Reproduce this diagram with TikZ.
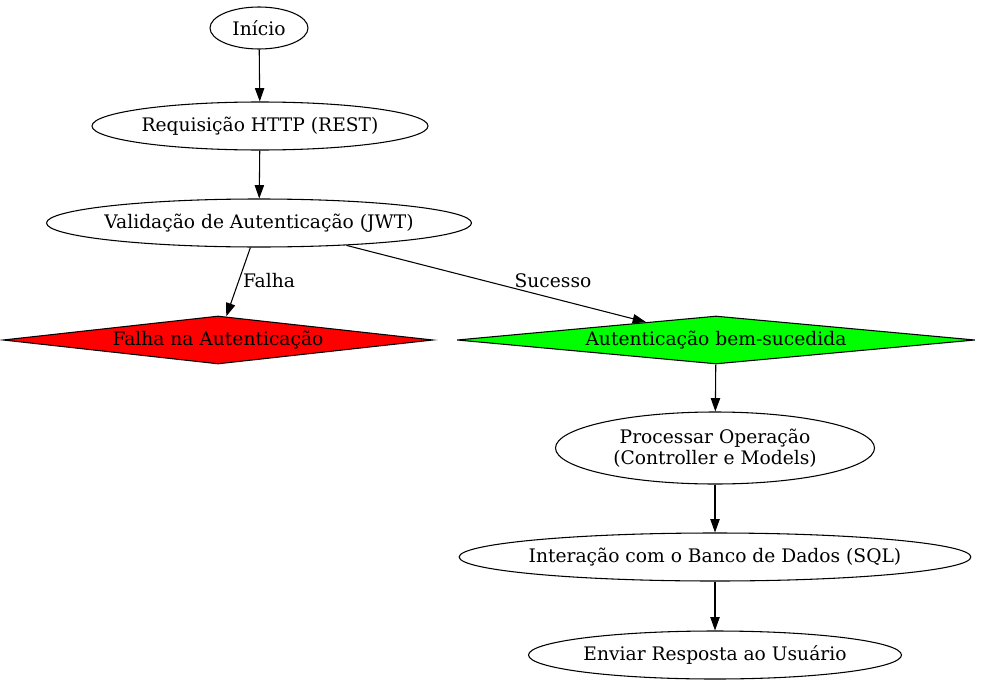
\documentclass[tikz,border=0pt]{standalone}
\usepackage{fontspec}
\setmainfont{DejaVu Serif}
\usetikzlibrary{shapes.geometric,arrows.meta}

\begin{document}
\begin{tikzpicture}[x=0.75pt,y=-0.75pt,
        font=\fontsize{14}{15.5}\selectfont,
        passo/.style={draw,ellipse,inner xsep=-4pt,inner ysep=0pt,line width=0.8pt},
        decisao/.style={draw,diamond,aspect=10,inner sep=0pt,line width=0.8pt,minimum height=36pt},
        seta/.style={-{Triangle[length=10pt,width=7pt]},line width=0.8pt}]
                \useasboundingbox (0,0) rectangle (981,685);
                \node[passo,minimum width=73.5pt,minimum height=31.5pt] (inicio) at (259,28) {Início};
                \node[passo,minimum width=252pt,minimum height=36pt] (req) at (260,126) {Requisição HTTP (REST)};
                \node[passo,minimum width=318.75pt,minimum height=36pt] (valid) at (259,223) {Validação de Autenticação (JWT)};
                \node[decisao,fill=red,minimum width=322.5pt] (falha) at (218,340) {Falha na Autenticação};
                \node[decisao,fill=green,minimum width=388.5pt] (sucesso) at (716,340) {Autenticação bem-sucedida};
                \node[passo,minimum width=239.25pt,minimum height=54pt,align=center] (proc) at (715,448) {Processar Operação\\(Controller e Models)};
                \node[passo,minimum width=381.75pt,minimum height=36pt] (banco) at (715,557) {Interação com o Banco de Dados (SQL)};
                \node[passo,minimum width=279.75pt,minimum height=36pt] (resp) at (715,655) {Enviar Resposta ao Usuário};
                \node (lfalha) at (269,281) {Falha};
                \node (lsucesso) at (553,281) {Sucesso};
                \draw[seta] (inicio)--(req);
                \draw[seta] (req)--(valid);
                \draw[seta] (valid)--(falha);
                \draw[seta] (valid)--(sucesso);
                \draw[seta] (sucesso)--(proc);
                \draw[seta] (proc)--(banco);
                \draw[seta] (banco)--(resp);
            \end{tikzpicture}
\end{document}
